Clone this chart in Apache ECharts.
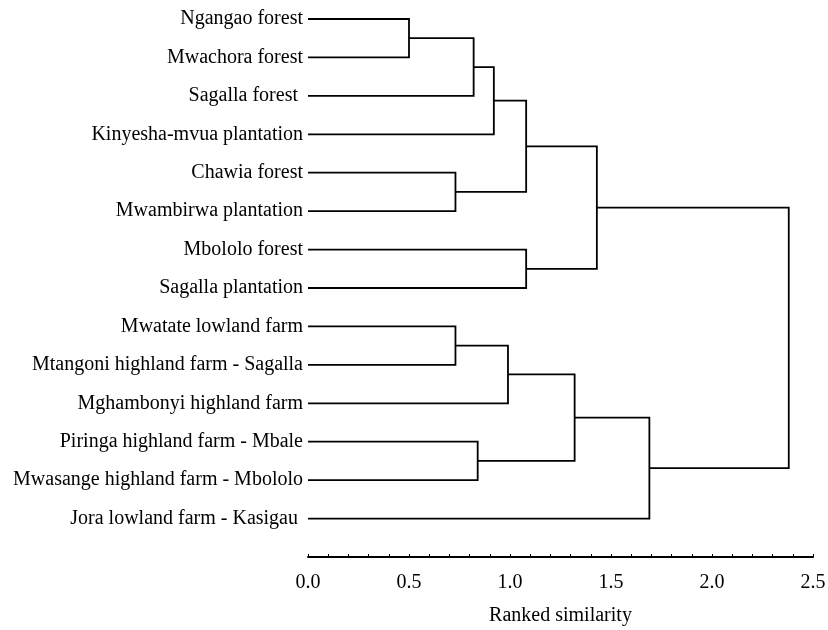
<!DOCTYPE html>
<html>
<head>
<meta charset="utf-8">
<script src="https://cdn.jsdelivr.net/npm/echarts@6/dist/echarts.min.js"></script>
<style>
  html, body { margin: 0; padding: 0; background: #fff; }
  #chart { width: 828px; height: 630px; }
</style>
</head>
<body>
<div id="chart"></div>
<script>
// Sites (leaves), top to bottom
const sites = [
  'Ngangao forest',
  'Mwachora forest',
  'Sagalla forest ',
  'Kinyesha-mvua plantation',
  'Chawia forest',
  'Mwambirwa plantation',
  'Mbololo forest',
  'Sagalla plantation',
  'Mwatate lowland farm',
  'Mtangoni highland farm - Sagalla',
  'Mghambonyi highland farm',
  'Piringa highland farm - Mbale',
  'Mwasange highland farm - Mbololo',
  'Jora lowland farm - Kasigau '
];

// Agglomeration steps: node ids 0..13 are sites, each merge creates node 14, 15, ...
const mergeLeft   = [0, 14, 15, 4, 16, 6, 18, 8, 21, 11, 22, 24, 20];
const mergeRight  = [1,  2,  3, 5, 17, 7, 19, 9, 10, 12, 23, 13, 25];
const mergeHeight = [0.50, 0.82, 0.92, 0.73, 1.08, 1.08, 1.43, 0.73, 0.99, 0.84, 1.32, 1.69, 2.38];

const xTicks = [0, 0.5, 1.0, 1.5, 2.0, 2.5];

// Node positions: height (x) and vertical slot (y)
const nodeX = sites.map(() => 0);
const nodeY = sites.map((_, i) => i);
const links = [];
for (let k = 0; k < mergeHeight.length; k++) {
  const a = mergeLeft[k], b = mergeRight[k], h = mergeHeight[k];
  links.push([nodeX[a], nodeY[a], nodeX[b], nodeY[b], h]);
  nodeX.push(h);
  nodeY.push((nodeY[a] + nodeY[b]) / 2);
}

const serif = '"Liberation Serif", "Times New Roman", serif';

const chart = echarts.init(document.getElementById('chart'), null, { renderer: 'canvas' });
chart.setOption({
  animation: false,
  backgroundColor: '#ffffff',
  textStyle: { fontFamily: serif },
  grid: { left: 308, right: 15, top: 19, bottom: 73, containLabel: false, outerBoundsMode: 'none' },
  xAxis: {
    type: 'value',
    min: xTicks[0],
    max: xTicks[xTicks.length - 1],
    interval: 0.5,
    name: 'Ranked similarity',
    nameLocation: 'middle',
    nameGap: 49,
    nameTextStyle: { fontSize: 20, color: '#000', fontFamily: serif },
    axisLine: { show: true, onZero: false, lineStyle: { color: '#000', width: 2 } },
    axisTick: { show: true, inside: true, length: 3, lineStyle: { color: '#000', width: 1 } },
    minorTick: { show: true, splitNumber: 5, length: 3, lineStyle: { color: '#000', width: 1 } },
    axisLabel: {
      color: '#000', fontSize: 20, margin: 16, fontFamily: serif,
      formatter: v => v.toFixed(1)
    },
    splitLine: { show: false }
  },
  yAxis: {
    type: 'value',
    inverse: true,
    min: 0,
    max: sites.length,
    interval: 1,
    axisLine: { show: false },
    axisTick: { show: false },
    splitLine: { show: false },
    axisLabel: {
      color: '#000', fontSize: 20, margin: 5, fontFamily: serif,
      showMinLabel: true, showMaxLabel: true,
      formatter: v => sites[Math.round(v)] || ''
    }
  },
  series: [{
    type: 'custom',
    coordinateSystem: 'cartesian2d',
    data: links,
    encode: { x: [0, 2, 4], y: [1, 3] },
    clip: false,
    renderItem: function (params, api) {
      const x1 = api.value(0), y1 = api.value(1), x2 = api.value(2), y2 = api.value(3), h = api.value(4);
      const p1 = api.coord([x1, y1]);
      const p2 = api.coord([h, y1]);
      const p3 = api.coord([h, y2]);
      const p4 = api.coord([x2, y2]);
      return {
        type: 'polyline',
        shape: { points: [p1, p2, p3, p4] },
        style: { stroke: '#000', lineWidth: 1.8, fill: null }
      };
    }
  }]
});
</script>
</body>
</html>
